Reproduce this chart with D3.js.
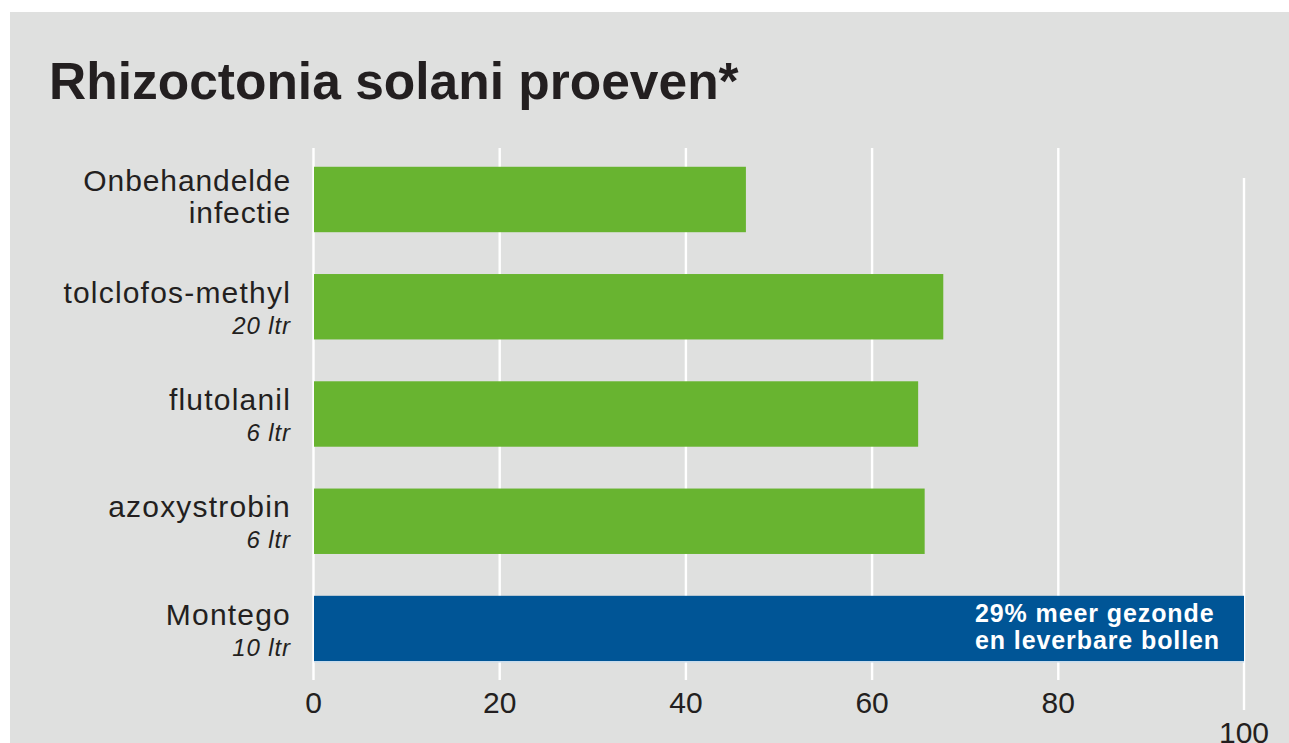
<!DOCTYPE html>
<html>
<head>
<meta charset="utf-8">
<script src="https://cdn.jsdelivr.net/npm/d3@7"></script>
<style>
  body { margin: 0; background: #fff; }
  svg { display: block; }
  text { font-family: "Liberation Sans", Arial, sans-serif; fill: #231f20; }
</style>
</head>
<body>
<svg id="chart" width="1289" height="743"></svg>
<script>
// data
const categories = ["Onbehandelde infectie", "tolclofos-methyl", "flutolanil", "azoxystrobin", "Montego"];
const labelLines = [["Onbehandelde", "infectie"], ["tolclofos-methyl"], ["flutolanil"], ["azoxystrobin"], ["Montego"]];
const doses = ["", "20 ltr", "6 ltr", "6 ltr", "10 ltr"];
const values = [46.5, 67.7, 65.0, 65.7, 100];
const tickValues = [0, 20, 40, 60, 80, 100];
const note = ["29% meer gezonde", "en leverbare bollen"];

const width = 1289;
const height = 743;
const green = "#68b430";
const blue = "#005596";

const svg = d3.select("#chart");

// grey panel
svg.append("rect")
  .attr("x", 10).attr("y", 12)
  .attr("width", width - 10).attr("height", height - 12)
  .attr("fill", "#dfe0df");

svg.append("text")
  .attr("x", 49).attr("y", 99)
  .attr("font-size", "51.5px")
  .attr("font-weight", "bold")
  .text("Rhizoctonia solani proeven*");

const x = d3.scaleLinear().domain([0, 100]).range([313, 1244]);
const y = d3.scaleBand().domain(categories).range([148, 680])
  .paddingInner(0.39).paddingOuter(0.175);

// gridlines + tick labels
const axis = svg.append("g")
  .attr("transform", "translate(0,680)")
  .call(d3.axisBottom(x).tickValues(tickValues).tickSize(-532).tickPadding(12));
axis.select(".domain").remove();
axis.selectAll(".tick line").attr("stroke", "#fff").attr("stroke-width", 2.4);
axis.selectAll(".tick text")
  .attr("fill", "#231f20")
  .attr("font-family", "Liberation Sans, Arial, sans-serif")
  .attr("font-size", "30px")
  .attr("dy", "0.71em");
// the last tick sits lower in the original
axis.selectAll(".tick").filter(d => d === 100)
  .attr("transform", `translate(${x(100)},30)`);

// bars
svg.append("g").selectAll("rect")
  .data(values)
  .join("rect")
  .attr("x", x(0) + 1)
  .attr("y", (d, i) => y(categories[i]))
  .attr("width", d => x(d) - x(0) - 1)
  .attr("height", y.bandwidth())
  .attr("fill", (d, i) => i === values.length - 1 ? blue : green);

// thin light edge under the Montego bar
const last = categories[categories.length - 1];
svg.append("line")
  .attr("x1", x(0) + 1).attr("x2", x(100))
  .attr("y1", y(last) + y.bandwidth() + 0.5)
  .attr("y2", y(last) + y.bandwidth() + 0.5)
  .attr("stroke", "#c9dcec").attr("stroke-width", 1.5);

// category labels
const labels = svg.append("g").attr("text-anchor", "end");
categories.forEach((c, i) => {
  const cy = y(c) + y.bandwidth() / 2;
  const lines = labelLines[i];
  if (lines.length === 2) {
    lines.forEach((l, j) => {
      labels.append("text")
        .attr("x", 291).attr("y", cy - 8 + j * 32)
        .attr("font-size", "30px").attr("letter-spacing", "0.9px")
        .text(l);
    });
  } else {
    labels.append("text")
      .attr("x", 291).attr("y", cy - 4)
      .attr("font-size", "30px").attr("letter-spacing", "1.2px")
      .text(lines[0]);
    labels.append("text")
      .attr("x", 291).attr("y", cy + 27)
      .attr("font-size", "24px").attr("font-style", "italic")
      .attr("letter-spacing", "0.9px")
      .text(doses[i]);
  }
});

// note inside the Montego bar
const ny = y(last) + y.bandwidth() / 2;
note.forEach((t, j) => {
  svg.append("text")
    .attr("x", 975).attr("y", ny - 7 + j * 27)
    .attr("font-size", "25px").attr("font-weight", "bold")
    .attr("letter-spacing", "0.9px")
    .style("fill", "#fff")
    .text(t);
});
</script>
</body>
</html>
